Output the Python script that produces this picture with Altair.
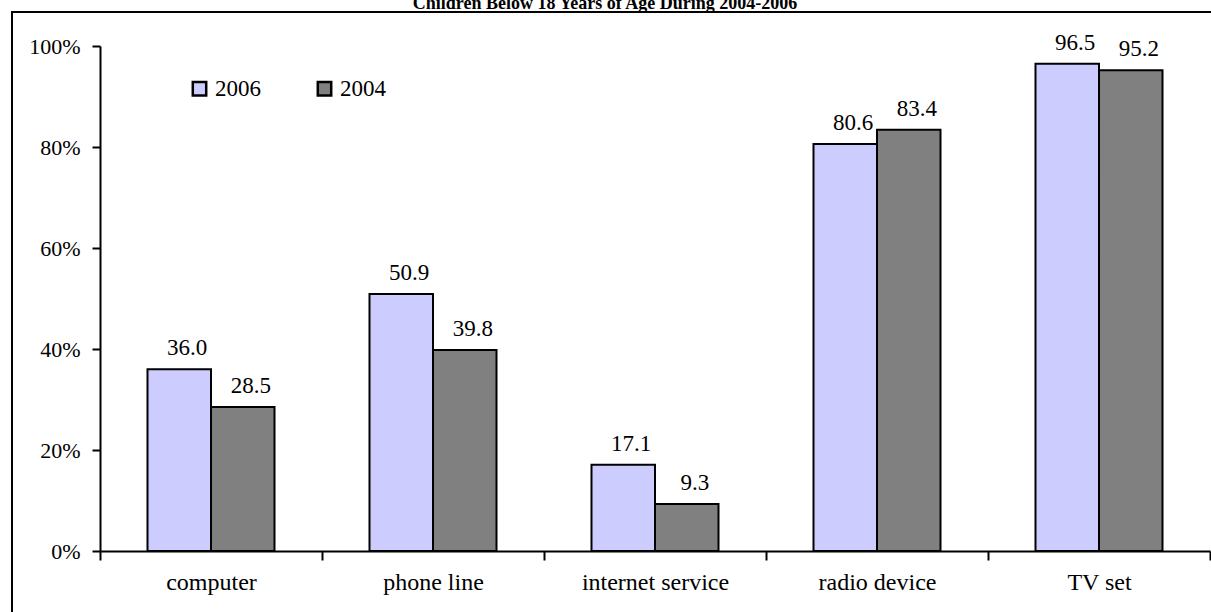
import altair as alt
import pandas as pd

categories = ["computer", "phone line", "internet service", "radio device", "TV set"]
years = ["2006", "2004"]
values_2006 = [36.0, 50.9, 17.1, 80.6, 96.5]
values_2004 = [28.5, 39.8, 9.3, 83.4, 95.2]
title_text = "Children Below 18 Years of Age During 2004-2006"

rows = []
for c, a, b in zip(categories, values_2006, values_2004):
    rows.append({"item": c, "year": "2006", "value": a, "share": a / 100})
    rows.append({"item": c, "year": "2004", "value": b, "share": b / 100})
df = pd.DataFrame(rows)

FONT = "Liberation Serif"
W, H = 1110, 505

x_scale = alt.Scale(paddingInner=0, paddingOuter=0)
xo_scale = alt.Scale(paddingInner=0, paddingOuter=0.748)

x_enc = alt.X("item:N", sort=categories, title=None, scale=x_scale,
              axis=alt.Axis(labelAngle=0, tickBand="extent", tickSize=9, tickWidth=2,
                            domainWidth=2, domainColor="black", tickColor="black",
                            labelFont=FONT, labelFontSize=24, labelColor="black",
                            labelPadding=10))
xo_enc = alt.XOffset("year:N", sort=years, scale=xo_scale)

base = alt.Chart(df)

bars = base.mark_bar(stroke="black", strokeWidth=2).encode(
    x=x_enc,
    xOffset=xo_enc,
    y=alt.Y("share:Q", title=None,
            scale=alt.Scale(domain=[0, 1], nice=False),
            axis=alt.Axis(format="%", values=[0, 0.2, 0.4, 0.6, 0.8, 1.0], grid=False,
                          tickSize=8, tickWidth=2, domainWidth=2, domainColor="black",
                          tickColor="black", labelFont=FONT, labelFontSize=22,
                          labelColor="black", labelPadding=12)),
    color=alt.Color("year:N", sort=years,
                    scale=alt.Scale(domain=years, range=["#CCCCFF", "#808080"]),
                    legend=alt.Legend(title=None, orient="none", legendX=88, legendY=31,
                                      direction="horizontal", columns=2, columnPadding=51,
                                      symbolType="square", symbolSize=180,
                                      symbolStrokeColor="black", symbolStrokeWidth=2.5,
                                      symbolOpacity=1, labelFont=FONT, labelFontSize=23,
                                      labelColor="black", labelOffset=4)),
)

labels = base.mark_text(font=FONT, fontSize=23, color="black", dy=-14, dx=8,
                        baseline="alphabetic").encode(
    x=alt.X("item:N", sort=categories, scale=x_scale),
    xOffset=alt.XOffset("year:N", sort=years, scale=xo_scale),
    y="share:Q",
    text=alt.Text("value:Q", format=".1f"),
)

frame_top = alt.Chart(alt.Data(values=[{}])).mark_rule(
    color="black", strokeWidth=2
).encode(x=alt.value(-89), x2=alt.value(1400), y=alt.value(-34))

frame_left = alt.Chart(alt.Data(values=[{}])).mark_rule(
    color="black", strokeWidth=2
).encode(x=alt.value(-88), y=alt.value(-35), y2=alt.value(800))

title = alt.Chart(alt.Data(values=[{}])).mark_text(
    font=FONT, fontSize=18, fontWeight="bold", color="black", align="center",
    baseline="alphabetic"
).encode(x=alt.value(505), y=alt.value(-37), text=alt.value(title_text))

chart = alt.layer(frame_top, frame_left, bars, labels, title).properties(
    width=W, height=H,
    background="white",
    autosize=alt.AutoSizeParams(type="none"),
    padding={"left": 100, "top": 46, "right": 1, "bottom": 61},
).configure_view(strokeWidth=0, stroke="transparent")

chart.save("out.html", embed_options={"renderer": "svg", "actions": False})
